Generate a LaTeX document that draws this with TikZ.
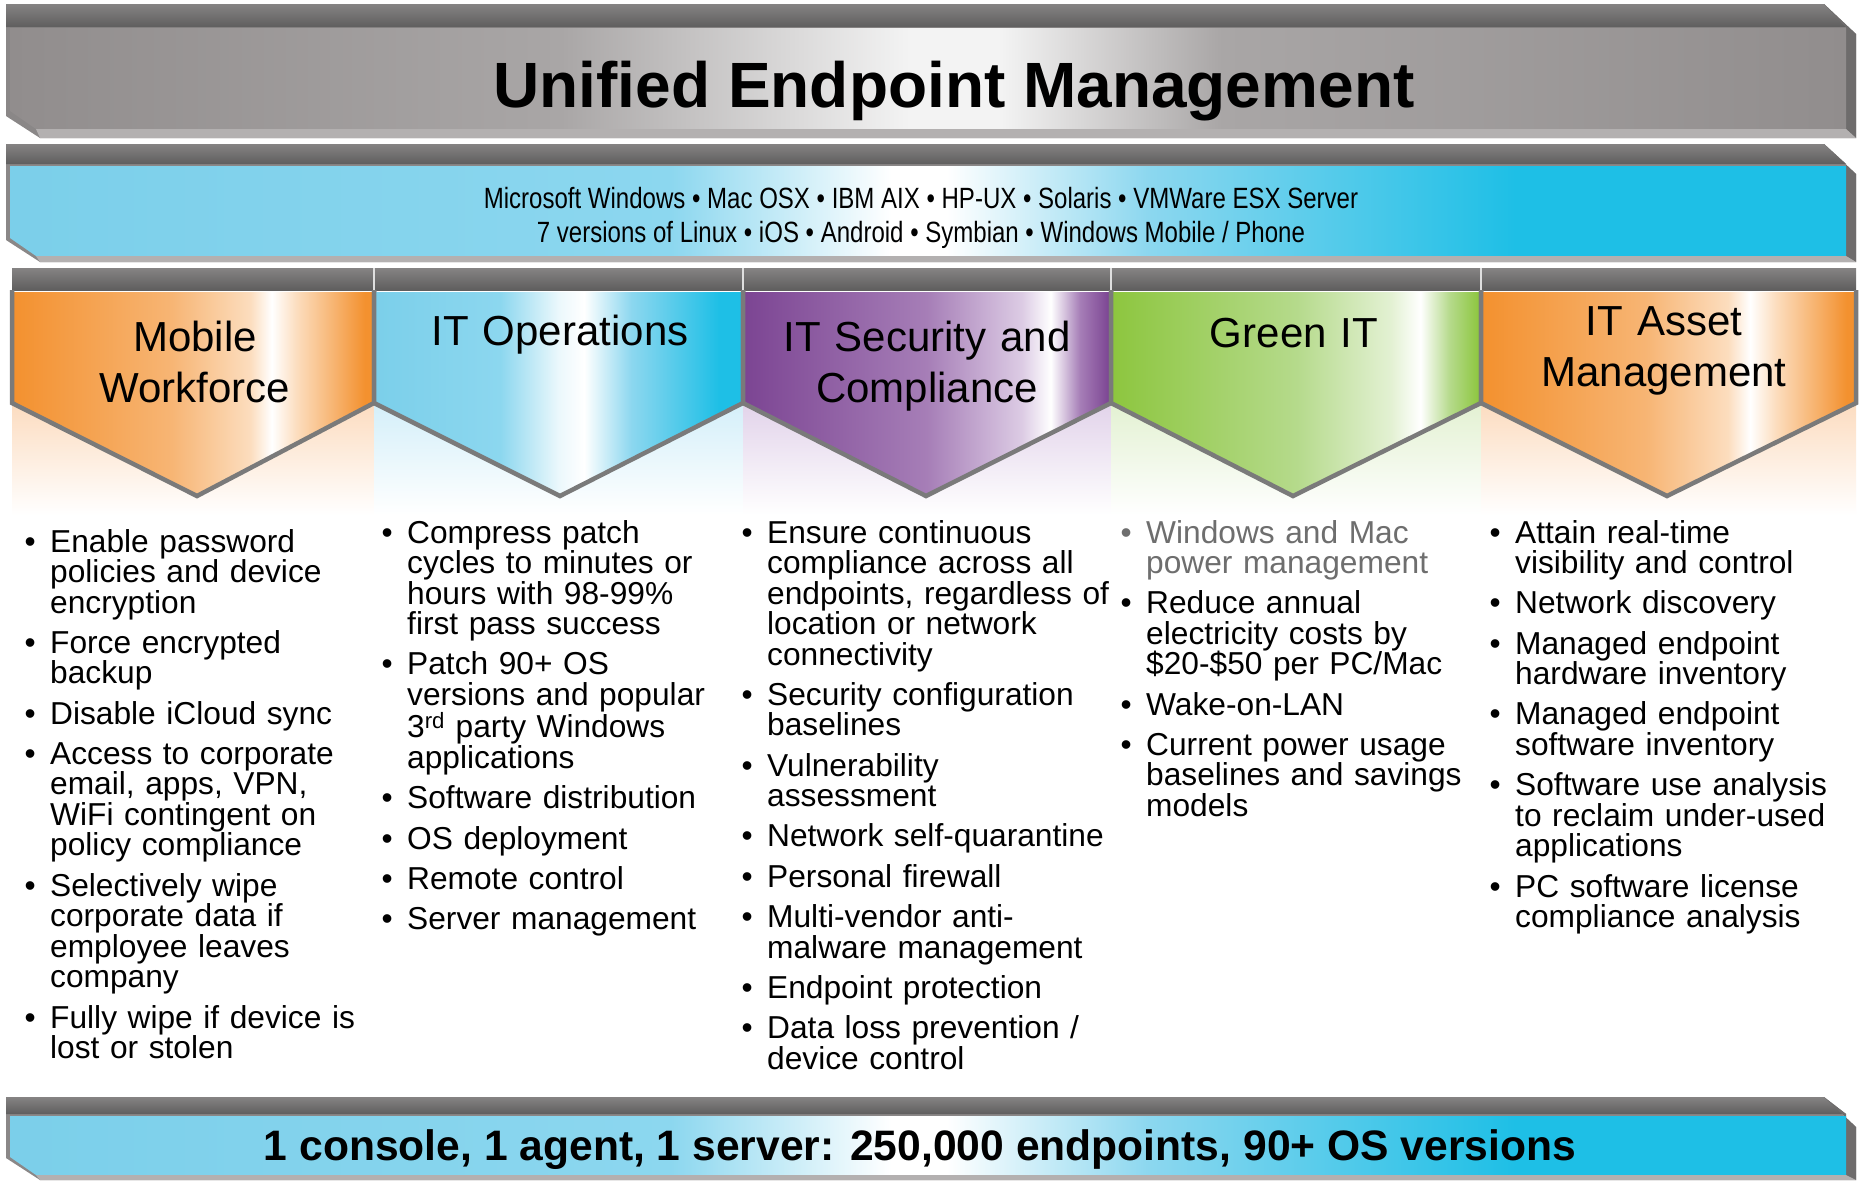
\documentclass[tikz,border=0pt]{standalone}
\usepackage{fontspec}
\setmainfont{Liberation Sans}

% colours
\definecolor{frameGray}{HTML}{8A8787}
\definecolor{faceGray}{HTML}{6E6C6C}
\definecolor{rimGray}{HTML}{B3B0B0}
\definecolor{stripTop}{HTML}{858383}
\definecolor{stripBot}{HTML}{5F5E5E}
\definecolor{penGray}{HTML}{7A7A7A}
\definecolor{itemGray}{HTML}{6E6E6E}
\definecolor{tgA}{HTML}{918D8D}
\definecolor{tgB}{HTML}{A9A6A6}
\definecolor{tgW}{HTML}{F3F3F3}
\definecolor{cyA}{HTML}{7BCFEA}
\definecolor{cyB}{HTML}{8CD7EF}
\definecolor{cyD}{HTML}{1EBFE6}
\definecolor{orA}{HTML}{F3912F}
\definecolor{orB}{HTML}{F7B574}
\definecolor{orC}{HTML}{FCDDBE}
\definecolor{puA}{HTML}{7C4593}
\definecolor{puB}{HTML}{A67EB7}
\definecolor{puC}{HTML}{DCCBE4}
\definecolor{grA}{HTML}{8DC63F}
\definecolor{grB}{HTML}{B5DA8B}
\definecolor{grC}{HTML}{E3F1D3}
\definecolor{tintOr}{HTML}{FCDCC0}
\definecolor{tintCy}{HTML}{D4EFF9}
\definecolor{tintPu}{HTML}{E2D3EA}
\definecolor{tintGr}{HTML}{E3F1D2}

% horizontal colour ramps (path spans 25bp..75bp)
\pgfdeclarehorizontalshading{shTitle}{100bp}{color(0bp)=(tgA); color(25bp)=(tgA); color(40bp)=(tgB); color(49.5bp)=(tgW); color(52bp)=(tgW); color(58bp)=(tgB); color(75bp)=(tgA); color(100bp)=(tgA)}
\pgfdeclarehorizontalshading{shOS}{100bp}{color(0bp)=(cyA); color(25bp)=(cyA); color(43bp)=(cyB); color(49bp)=(white); color(50.5bp)=(white); color(56bp)=(cyB); color(66bp)=(cyD); color(75bp)=(cyD); color(100bp)=(cyD)}
\pgfdeclarehorizontalshading{shFoot}{100bp}{color(0bp)=(cyA); color(25bp)=(cyA); color(43bp)=(cyB); color(49bp)=(white); color(50.5bp)=(white); color(56bp)=(cyB); color(66bp)=(cyD); color(75bp)=(cyD); color(100bp)=(cyD)}
\pgfdeclarehorizontalshading{shOrange}{100bp}{color(0bp)=(orA); color(25bp)=(orA); color(47bp)=(orB); color(58bp)=(orC); color(61bp)=(white); color(64.5bp)=(orC); color(74bp)=(orA); color(100bp)=(orA)}
\pgfdeclarehorizontalshading{shCyan}{100bp}{color(0bp)=(cyA); color(25bp)=(cyA); color(42bp)=(cyB); color(50bp)=(white!85!cyA); color(53.5bp)=(white); color(60bp)=(cyB); color(72bp)=(cyD); color(100bp)=(cyD)}
\pgfdeclarehorizontalshading{shPurple}{100bp}{color(0bp)=(puA); color(25bp)=(puA); color(50bp)=(puB); color(63bp)=(puC); color(67bp)=(white); color(71bp)=(puB); color(75bp)=(puA); color(100bp)=(puA)}
\pgfdeclarehorizontalshading{shGreen}{100bp}{color(0bp)=(grA); color(25bp)=(grA); color(50bp)=(grB); color(63bp)=(grC); color(67bp)=(white); color(71bp)=(grB); color(75bp)=(grA); color(100bp)=(grA)}

\newcommand\listfont{\fontsize{31.7}{30.5}\selectfont}
% narrow setting for the platform line
\newcommand\narrowline[1]{\scalebox{0.82}[1]{\fontsize{29.3}{34.5}\selectfont #1}}
% one bulleted entry; optional argument gives its colour
\newcommand\bitem[2][black]{\noindent\hangindent=25.5pt\hangafter=1%
  \textcolor{#1}{\makebox[25.5pt][l]{\textbullet}#2}\par\vspace{9.8pt}}

% bevelled bar: top, strip bottom, body top, body bottom, bottom, shading
\newcommand\slab[6]{%
  \fill[frameGray] (6,#1) -- (1824,#1) -- (1856,#1+30) -- (1856,#5) -- (40,#5) -- (6,#5-22) -- cycle;
  \shade[top color=stripTop,bottom color=stripBot] (6,#1) -- (1824,#1) -- (1846,#2) -- (6,#2) -- cycle;
  \fill[faceGray] (1824,#1) -- (1856,#1+30) -- (1856,#5) -- (1846,#4) -- (1846,#2) -- cycle;
  \shade[shading=#6] (10,#3) -- (1846,#3) -- (1846,#4) -- (36,#4) -- (10,#4-18) -- cycle;
  \fill[rimGray] (36,#4) -- (1846,#4) -- (1856,#5) -- (40,#5) -- cycle;
}

% column header pennant: left, right, tip x, shading
\newcommand\pennant[4]{%
  \shade[shading=#4] (#1+2,292) -- (#2-2,292) -- (#2-2,403) -- (#3,494) -- (#1+2,403) -- cycle;
  \draw[penline] (#1,290) -- (#1,403) -- (#3,496) -- (#2,403) -- (#2,290);
}

\begin{document}
\begin{tikzpicture}[x=1pt,y=-1pt,
  penline/.style={draw=penGray,line width=4.5pt,line join=miter},
  head/.style={text width=360pt,align=center,inner sep=0pt,font=\fontsize{42}{51}\selectfont,anchor=base},
  listbox/.style={text width=420pt,inner sep=0pt,font=\listfont,anchor=base west}]
\useasboundingbox (0,0) rectangle (1860,1181);
\fill[white] (0,0) rectangle (1860,1181);

% title bar, platform bar, footer bar
\slab{4}{27}{28}{129}{138}{shTitle}
\slab{144}{164}{166}{256}{262}{shOS}
\slab{1097}{1114}{1116}{1175}{1180}{shFoot}

% header strip over the five columns
\shade[top color=stripTop,bottom color=stripBot] (12,268) rectangle (1856,290);
\foreach \bx in {374,743,1111,1481}
  \draw[white!75!gray,line width=2pt] (\bx,268) -- (\bx,290);

% tinted fades under the pennants
\shade[top color=tintOr,bottom color=white] (12,403) rectangle (374,515);
\shade[top color=tintCy,bottom color=white] (374,403) rectangle (743,515);
\shade[top color=tintPu,bottom color=white] (743,403) rectangle (1111,515);
\shade[top color=tintGr,bottom color=white] (1111,403) rectangle (1481,515);
\shade[top color=tintOr,bottom color=white] (1481,403) rectangle (1856,515);

\pennant{12}{374}{197}{shOrange}
\pennant{374}{743}{560}{shCyan}
\pennant{743}{1111}{926}{shPurple}
\pennant{1111}{1481}{1293}{shGreen}
\pennant{1481}{1856}{1667}{shOrange}

% texts of the bars
\node[font=\bfseries\fontsize{64}{70}\selectfont,anchor=base,inner sep=0pt] (title) at (954,107) {Unified Endpoint Management};
\node[anchor=base,inner sep=0pt] (platforms1) at (921,208)
  {\narrowline{Microsoft Windows • Mac OSX • IBM AIX • HP-UX • Solaris • VMWare ESX Server}};
\node[anchor=base,inner sep=0pt] (platforms2) at (921,242.5)
  {\narrowline{7 versions of Linux • iOS • Android • Symbian • Windows Mobile / Phone}};
\node[font=\bfseries\fontsize{42.6}{50}\selectfont,anchor=base,inner sep=0pt] (footer) at (920,1160) {1 console, 1 agent, 1 server: 250,000 endpoints, 90+ OS versions};

% column headings
\node[head] (h1) at (195,351) {Mobile\\Workforce};
\node[head] (h2) at (560,345) {IT Operations};
\node[head] (h3) at (927,351) {IT Security and\\Compliance};
\node[head] (h4) at (1294,347.5) {Green IT};
\node[head] (h5) at (1664,335.5) {IT Asset\\Management};

% column lists
\node[listbox] (l1) at (24.5,552) {%
  \bitem{Enable password\newline policies and device\newline encryption}%
  \bitem{Force encrypted\newline backup}%
  \bitem{Disable iCloud sync}%
  \bitem{Access to corporate\newline email, apps, VPN,\newline WiFi contingent on\newline policy compliance}%
  \bitem{Selectively wipe\newline corporate data if\newline employee leaves\newline company}%
  \bitem{Fully wipe if device is\newline lost or stolen}};

\node[listbox] (l2) at (381.5,543) {%
  \bitem{Compress patch\newline cycles to minutes or\newline hours with 98-99\%\newline first pass success}%
  \bitem{Patch 90+ OS\newline versions and popular\newline 3\textsuperscript{rd} party Windows\newline applications}%
  \bitem{Software distribution}%
  \bitem{OS deployment}%
  \bitem{Remote control}%
  \bitem{Server management}};

\node[listbox] (l3) at (741.5,543) {%
  \bitem{Ensure continuous\newline compliance across all\newline endpoints, regardless of\newline location or network\newline connectivity}%
  \bitem{Security configuration\newline baselines}%
  \bitem{Vulnerability\newline assessment}%
  \bitem{Network self-quarantine}%
  \bitem{Personal firewall}%
  \bitem{Multi-vendor anti-\newline malware management}%
  \bitem{Endpoint protection}%
  \bitem{Data loss prevention /\newline device control}};

\node[listbox] (l4) at (1120.5,543) {%
  \bitem[itemGray]{Windows and Mac\newline power management}%
  \bitem{Reduce annual\newline electricity costs by\newline \$20-\$50 per PC/Mac}%
  \bitem{Wake-on-LAN}%
  \bitem{Current power usage\newline baselines and savings\newline models}};

\node[listbox] (l5) at (1489.5,543) {%
  \bitem{Attain real-time\newline visibility and control}%
  \bitem{Network discovery}%
  \bitem{Managed endpoint\newline hardware inventory}%
  \bitem{Managed endpoint\newline software inventory}%
  \bitem{Software use analysis\newline to reclaim under-used\newline applications}%
  \bitem{PC software license\newline compliance analysis}};
\end{tikzpicture}
\end{document}
